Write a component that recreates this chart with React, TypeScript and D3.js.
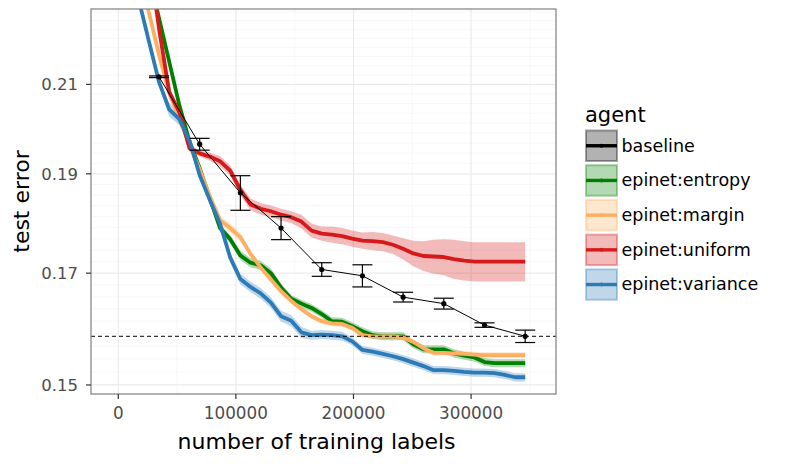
import React from 'react';
import * as d3 from 'd3';

// legend / series identity
const agents = ['baseline', 'epinet:entropy', 'epinet:margin', 'epinet:uniform', 'epinet:variance'];
const agentColors = ['#000000', '#008000', '#fdae61', '#d7191c', '#2c7bb6'];

// baseline: points with error bars
const baselineLabels = [34600, 69200, 103800, 138400, 173000, 207600, 242200, 276800, 311400, 346000];
const baselineError = [0.2118, 0.1964, 0.186, 0.1788, 0.1707, 0.1695, 0.1655, 0.1643, 0.1604, 0.1584];
const baselineSe = [0.0002, 0.0013, 0.0036, 0.0023, 0.0013, 0.0021, 0.0009, 0.001, 0.0004, 0.0011];

// epinet agents share one grid of label counts
const epinetLabels = [
  17300, 25950, 34600, 43250, 51900, 60550, 69200, 77850, 86500, 95150,
  103800, 112450, 121100, 129750, 138400, 147050, 155700, 164350, 173000, 181650,
  190300, 198950, 207600, 216250, 224900, 233550, 242200, 250850, 259500, 268150,
  276800, 285450, 294100, 302750, 311400, 320050, 328700, 337350, 346000,
];

const entropyError = [
  0.2492, 0.2374, 0.2262, 0.2155, 0.2052, 0.197, 0.1912, 0.1849, 0.1788, 0.1766,
  0.1734, 0.172, 0.1715, 0.17, 0.1673, 0.1652, 0.1643, 0.1635, 0.1624, 0.1611,
  0.161, 0.1602, 0.1593, 0.1586, 0.1584, 0.1584, 0.1584, 0.157, 0.1561, 0.1561,
  0.1561, 0.1554, 0.155, 0.1547, 0.1539, 0.1537, 0.1537, 0.1537, 0.1537,
];
const entropySe = [
  0.0008, 0.0008, 0.0008, 0.0008, 0.0008, 0.0008, 0.0008, 0.0008, 0.0008, 0.0008,
  0.0009, 0.0009, 0.0009, 0.0009, 0.0007, 0.0007, 0.0007, 0.0007, 0.0007, 0.0007,
  0.0007, 0.0007, 0.0007, 0.0007, 0.0007, 0.0007, 0.0007, 0.0007, 0.0007, 0.0007,
  0.0007, 0.0007, 0.0007, 0.0007, 0.0007, 0.0007, 0.0007, 0.0007, 0.0007,
];

const marginError = [
  0.2388, 0.2277, 0.2171, 0.208, 0.2022, 0.1961, 0.1909, 0.1853, 0.1804, 0.1788,
  0.177, 0.1737, 0.1711, 0.1688, 0.1666, 0.1648, 0.1633, 0.162, 0.1611, 0.1607,
  0.1606, 0.1599, 0.1586, 0.1584, 0.1584, 0.1584, 0.1582, 0.1574, 0.1563, 0.1555,
  0.1555, 0.1554, 0.1553, 0.1552, 0.1551, 0.1551, 0.1551, 0.1551, 0.1551,
];
const marginSe = [
  0.0005, 0.0005, 0.0005, 0.0005, 0.0005, 0.0005, 0.0005, 0.0005, 0.0009, 0.0009,
  0.0009, 0.0005, 0.0005, 0.0005, 0.0005, 0.0005, 0.0005, 0.0005, 0.0005, 0.0005,
  0.0005, 0.0005, 0.0005, 0.0005, 0.0005, 0.0005, 0.0005, 0.0005, 0.0005, 0.0005,
  0.0005, 0.0005, 0.0005, 0.0005, 0.0005, 0.0005, 0.0005, 0.0005, 0.0005,
];

const uniformError = [
  0.265, 0.243, 0.2236, 0.2083, 0.2036, 0.1955, 0.1944, 0.1937, 0.1927, 0.1907,
  0.1866, 0.1836, 0.1827, 0.1822, 0.1815, 0.181, 0.1801, 0.1783, 0.1777, 0.1775,
  0.1772, 0.1767, 0.1763, 0.1762, 0.176, 0.1755, 0.1747, 0.1738, 0.1733, 0.1732,
  0.1731, 0.1727, 0.1724, 0.1722, 0.1722, 0.1722, 0.1722, 0.1722, 0.1722,
];
const uniformSe = [
  0.0007, 0.0007, 0.0007, 0.0007, 0.0007, 0.0007, 0.0007, 0.0009, 0.0011, 0.0011,
  0.0011, 0.0012, 0.0012, 0.0012, 0.0012, 0.0012, 0.0014, 0.0014, 0.0014, 0.0016,
  0.0016, 0.0016, 0.0016, 0.0018, 0.0018, 0.0018, 0.0021, 0.0025, 0.0029, 0.0033,
  0.0035, 0.0038, 0.0038, 0.0038, 0.0038, 0.0038, 0.0038, 0.0038, 0.0038,
];

const varianceError = [
  0.231, 0.2205, 0.2106, 0.2042, 0.202, 0.1972, 0.1897, 0.1845, 0.1797, 0.173,
  0.1689, 0.1674, 0.1662, 0.1645, 0.162, 0.1612, 0.1591, 0.1586, 0.1587, 0.1586,
  0.1584, 0.1575, 0.156, 0.1557, 0.1553, 0.1549, 0.1544, 0.1538, 0.1532, 0.1525,
  0.1525, 0.1524, 0.1522, 0.1521, 0.1521, 0.152, 0.1517, 0.1513, 0.1513,
];
const varianceSe = [
  0.0007, 0.0007, 0.0007, 0.0016, 0.0013, 0.0007, 0.0007, 0.001, 0.001, 0.001,
  0.001, 0.001, 0.001, 0.001, 0.001, 0.001, 0.001, 0.0008, 0.0008, 0.0008,
  0.0008, 0.0007, 0.0007, 0.0007, 0.0007, 0.0007, 0.0007, 0.0007, 0.0007, 0.0007,
  0.0007, 0.0007, 0.0007, 0.0007, 0.0007, 0.0007, 0.0007, 0.0007, 0.0007,
];

const xTicks = [0, 100000, 200000, 300000];
const xMinorTicks = [50000, 150000, 250000, 350000];
const yTicks = [0.15, 0.17, 0.19, 0.21];

const W = 788;
const H = 464;
const left = 91, right = 556, top = 9, bottom = 394;
const font = 'DejaVu Sans, sans-serif';

const App: React.FC = () => {
  const x = d3.scaleLinear([-23200, 372200], [left, right]);
  const y = d3.scaleLog([0.14849, 0.2285], [bottom, top]);

  const yMinor = d3.range(-3, 40)
    .map((j) => 0.15 + (j * 0.02) / 9)
    .filter((v) => v > 0.14849 && v < 0.2285)
    .filter((v) => !yTicks.some((t) => Math.abs(t - v) < 1e-6));

  const series = [
    { name: agents[1], color: agentColors[1], err: entropyError, se: entropySe },
    { name: agents[2], color: agentColors[2], err: marginError, se: marginSe },
    { name: agents[3], color: agentColors[3], err: uniformError, se: uniformSe },
    { name: agents[4], color: agentColors[4], err: varianceError, se: varianceSe },
  ];

  const line = d3.line<number>()
    .x((_, i) => x(epinetLabels[i]))
    .y((d) => y(d));

  const ribbon = (err: number[], se: number[]) =>
    d3.area<number>()
      .x((_, i) => x(epinetLabels[i]))
      .y0((d, i) => y(d - se[i]))
      .y1((d, i) => y(d + se[i]))(err) || '';

  const baseLine = d3.line<number>()
    .x((_, i) => x(baselineLabels[i]))
    .y((d) => y(d));

  const keyTop = 130.5;
  const keyStep = 34.7;

  return (
    <svg width={W} height={H} style={{ position: 'absolute', left: 0, top: 0 }} fontFamily={font}>
      <defs>
        <clipPath id="panel">
          <rect x={left} y={top} width={right - left} height={bottom - top} />
        </clipPath>
      </defs>
      <rect x={0} y={0} width={W} height={H} fill="#fff" />

      {/* grid */}
      <g stroke="#ebebeb">
        {yMinor.map((v) => (
          <line key={'ym' + v} x1={left} x2={right} y1={y(v)} y2={y(v)} strokeWidth={0.6} stroke="#f2f2f2" />
        ))}
        {xMinorTicks.filter((v) => x(v) < right).map((v) => (
          <line key={'xm' + v} x1={x(v)} x2={x(v)} y1={top} y2={bottom} strokeWidth={0.6} stroke="#f2f2f2" />
        ))}
        {yTicks.map((v) => (
          <line key={'y' + v} x1={left} x2={right} y1={y(v)} y2={y(v)} strokeWidth={1.2} />
        ))}
        {xTicks.map((v) => (
          <line key={'x' + v} x1={x(v)} x2={x(v)} y1={top} y2={bottom} strokeWidth={1.2} />
        ))}
      </g>

      <g clipPath="url(#panel)">
        {series.map((s) => (
          <path key={'r' + s.name} d={ribbon(s.err, s.se)} fill={s.color} fillOpacity={0.3} stroke="none" />
        ))}
        {series.map((s) => (
          <path key={'l' + s.name} d={line(s.err) || ''} fill="none" stroke={s.color} strokeWidth={3.8} strokeLinejoin="round" />
        ))}

        <line
          x1={left} x2={right}
          y1={y(baselineError[baselineError.length - 1])}
          y2={y(baselineError[baselineError.length - 1])}
          stroke="#000" strokeWidth={1} strokeDasharray="4,3"
        />

        <path d={baseLine(baselineError) || ''} fill="none" stroke="#000" strokeWidth={1} />
        {baselineError.map((v, i) => {
          const cx = x(baselineLabels[i]);
          const y0 = y(v - baselineSe[i]);
          const y1 = y(v + baselineSe[i]);
          return (
            <g key={'b' + i} stroke="#000" strokeWidth={1.2}>
              <line x1={cx} x2={cx} y1={y0} y2={y1} />
              <line x1={cx - 10} x2={cx + 10} y1={y0} y2={y0} />
              <line x1={cx - 10} x2={cx + 10} y1={y1} y2={y1} />
              <circle cx={cx} cy={y(v)} r={2.6} fill="#000" stroke="none" />
            </g>
          );
        })}
      </g>

      <rect x={left} y={top} width={right - left} height={bottom - top} fill="none" stroke="#7f7f7f" strokeWidth={1.2} />

      {/* axes */}
      {yTicks.map((v) => (
        <g key={'yt' + v}>
          <line x1={left - 5} x2={left} y1={y(v)} y2={y(v)} stroke="#333" strokeWidth={1.2} />
          <text x={78} y={y(v)} dy="0.36em" textAnchor="end" fontSize={16.5} fill="#4d4d4d">
            {d3.format('.2f')(v)}
          </text>
        </g>
      ))}
      {xTicks.map((v) => (
        <g key={'xt' + v}>
          <line x1={x(v)} x2={x(v)} y1={bottom} y2={bottom + 5} stroke="#333" strokeWidth={1.2} />
          <text x={x(v)} y={419} textAnchor="middle" fontSize={16.8} fill="#4d4d4d">
            {v}
          </text>
        </g>
      ))}

      <text x={316.6} y={449} textAnchor="middle" fontSize={22}>number of training labels</text>
      <text transform={`translate(28.5,${(top + bottom) / 2}) rotate(-90)`} textAnchor="middle" fontSize={22}>
        test error
      </text>

      {/* legend */}
      <text x={585} y={122} fontSize={21}>agent</text>
      {agents.map((a, i) => {
        const ky = keyTop + i * keyStep;
        const c = agentColors[i];
        return (
          <g key={'k' + a}>
            <rect x={586} y={ky} width={31} height={30.5} fill={c} fillOpacity={0.3} stroke={c} strokeOpacity={0.35} strokeWidth={2} />
            <line x1={586} x2={617} y1={ky + 15.25} y2={ky + 15.25} stroke={c} strokeWidth={3.4} />
            <circle cx={601.5} cy={ky + 15.25} r={2} fill={c} />
            <text x={621.5} y={ky + 15.25} dy="0.33em" fontSize={17.5}>{a}</text>
          </g>
        );
      })}
    </svg>
  );
};

export default App;
